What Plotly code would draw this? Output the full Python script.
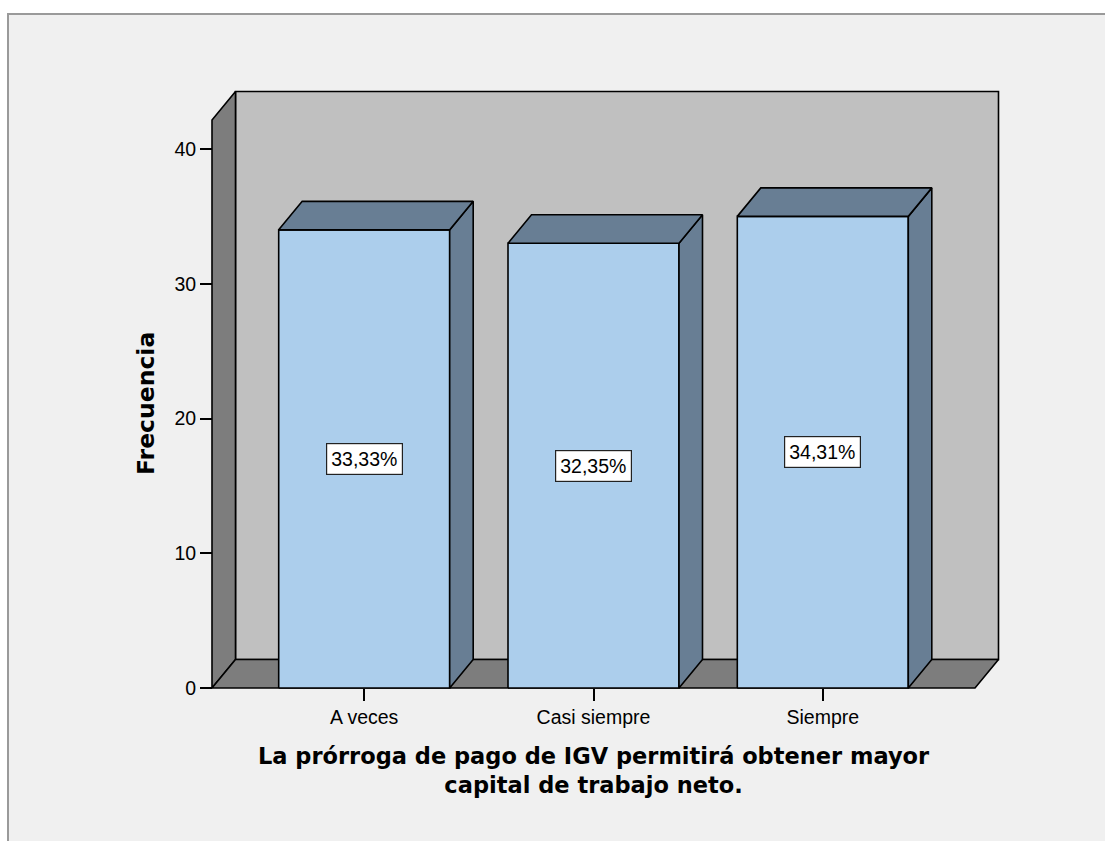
import plotly.graph_objects as go

# ---------------- data ----------------
categories = ["A veces", "Casi siempre", "Siempre"]
counts = [34, 33, 35]
pct_labels = ["33,33%", "32,35%", "34,31%"]
y_ticks = [0, 10, 20, 30, 40]
x_title = "La prórroga de pago de IGV permitirá obtener mayor<br>capital de trabajo neto."
y_title = "Frecuencia"

# ---------------- geometry (pixels) ----------------
W, H = 1105, 841
PX_CAT = 229.3          # pixels per category step
PX_UNIT = 13.475        # pixels per frequency unit
X_MID_PX = 593.5        # pixel x of the middle category
Y0_PX = 688             # pixel y of value 0
PL, PR, PT, PB = 208, 1003, 87, 692   # plot area in pixels


def xd(px):
    return 1 + (px - X_MID_PX) / PX_CAT


def yd(py):
    return (Y0_PX - py) / PX_UNIT


DX = 23.5 / PX_CAT
DY = 28.5 / PX_UNIT
BAR_W = 171 / PX_CAT
X0, X1 = xd(212), xd(975)
YTOP = yd(120)

FRONT = "#ACCEEC"
DARK = "#687E94"
WALL = "#C0C0C0"
SIDEWALL = "#7D7D7D"
BG = "#F0F0F0"

fig = go.Figure()


def poly(xs, ys, color):
    fig.add_trace(go.Scatter(
        x=list(xs) + [xs[0]], y=list(ys) + [ys[0]], mode="lines",
        fill="toself", fillcolor=color,
        line=dict(color="black", width=1.6),
        hoverinfo="skip", showlegend=False))


# back wall, left wall, floor
poly([X0 + DX, X0 + DX, X1 + DX, X1 + DX], [DY, YTOP + DY, YTOP + DY, DY], WALL)
poly([X0, X0, X0 + DX, X0 + DX], [0, YTOP, YTOP + DY, DY], SIDEWALL)
poly([X0, X1, X1 + DX, X0 + DX], [0, 0, DY, DY], SIDEWALL)

# bars
for i, v in enumerate(counts):
    xl, xr = i - BAR_W / 2, i + BAR_W / 2
    poly([xl, xl, xr, xr], [0, v, v, 0], FRONT)
    poly([xr, xr, xr + DX, xr + DX], [0, v, v + DY, DY], DARK)
    poly([xl, xl + DX, xr + DX, xr], [v, v + DY, v + DY, v], DARK)

annotations = []
for i, (v, lab) in enumerate(zip(counts, pct_labels)):
    annotations.append(dict(
        x=i, y=v / 2, xref="x", yref="y", text=lab, showarrow=False,
        font=dict(family="Liberation Sans, Arial", size=19.5, color="black"),
        bgcolor="white", bordercolor="#222222", borderwidth=1.2, borderpad=4))

PW, PH = PR - PL, PB - PT


def xp(px):
    return (px - PL) / PW


def yp(py):
    return (PB - py) / PH


annotations.append(dict(
    x=xp(146), y=yp(404), xref="paper", yref="paper", text="<b>" + y_title + "</b>",
    textangle=-90, showarrow=False, xanchor="center", yanchor="middle",
    font=dict(family="DejaVu Sans", size=23.5, color="black")))
annotations.append(dict(
    x=xp(594), y=yp(770), xref="paper", yref="paper", text="<b>" + x_title.replace("<br>", "</b><br><b>") + "</b>",
    showarrow=False, xanchor="center", yanchor="middle",
    font=dict(family="DejaVu Sans", size=22.5, color="black")))

shapes = [dict(
    type="rect", xref="paper", yref="paper",
    x0=xp(8), x1=xp(1300), y0=yp(14), y1=yp(1000),
    fillcolor=BG, line=dict(color="#9A9A9A", width=2), layer="below")]

fig.update_layout(
    width=W, height=H, autosize=False,
    margin=dict(l=PL, r=W - PR, t=PT, b=H - PB, pad=0),
    paper_bgcolor="white", plot_bgcolor="rgba(0,0,0,0)",
    showlegend=False, annotations=annotations, shapes=shapes,
    xaxis=dict(range=[xd(PL), xd(PR)], showgrid=False, zeroline=False, showline=False,
               tickvals=list(range(len(categories))), ticktext=categories,
               ticks="outside", ticklen=12, tickwidth=1.5, tickcolor="black",
               anchor="free", position=yp(Y0_PX),
               tickfont=dict(family="Liberation Sans, Arial", size=19.5, color="black"),
               fixedrange=True),
    yaxis=dict(range=[yd(PB), yd(PT)], showgrid=False, zeroline=False, showline=False,
               tickvals=y_ticks, ticks="outside", ticklen=12, tickwidth=1.5, tickcolor="black",
               anchor="free", position=xp(212),
               tickfont=dict(family="Liberation Sans, Arial", size=19.5, color="black"),
               fixedrange=True),
)

fig.write_html("out.html", config={"displayModeBar": False},
               post_script="document.body.style.margin='0';document.body.style.overflow='hidden';")
